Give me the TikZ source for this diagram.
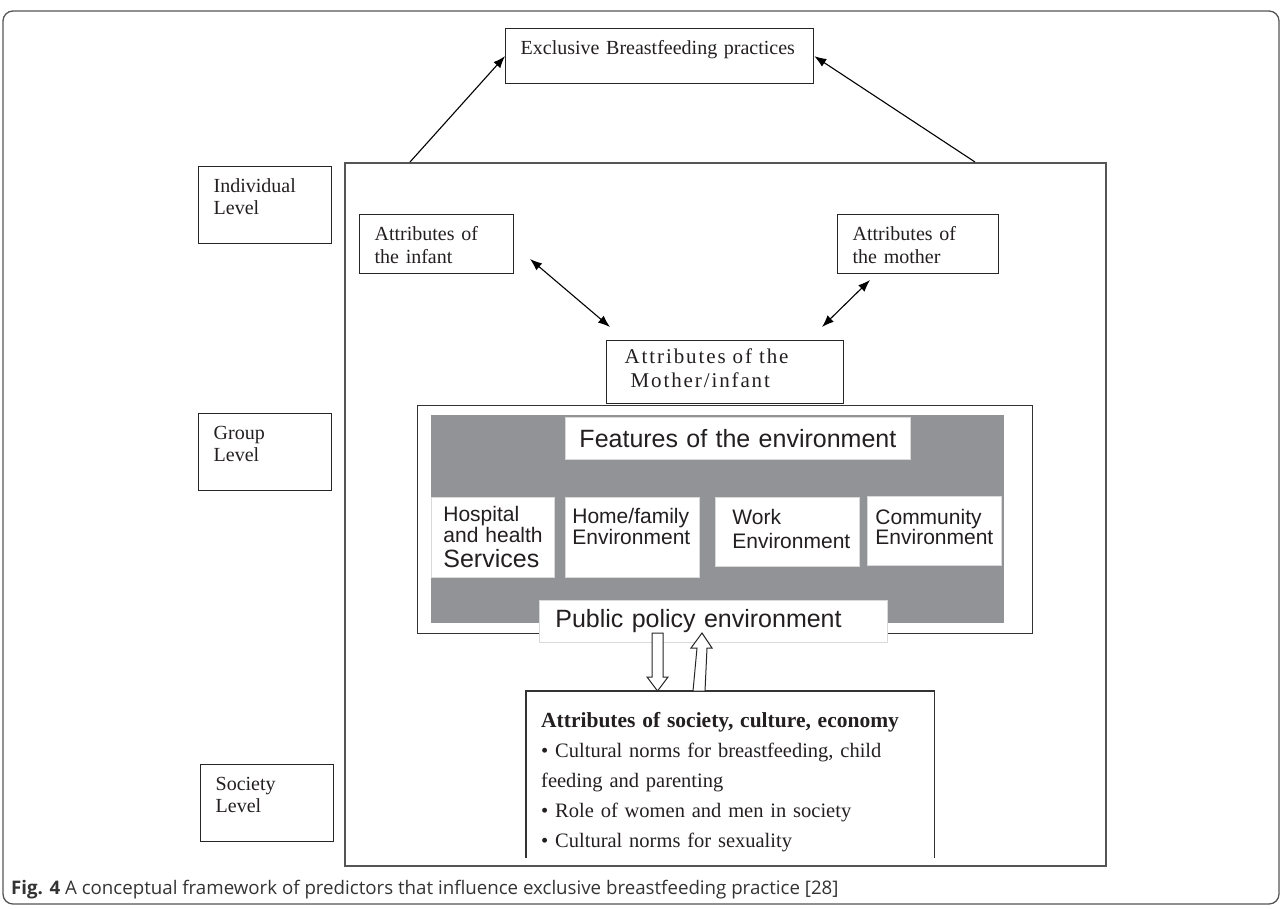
\documentclass[tikz,border=0pt]{standalone}
\usepackage{fontspec}
\usepackage{xcolor}
\setmainfont{Liberation Serif}
\newfontfamily\arialfont{Liberation Sans}
\newfontfamily\capfont{Open Sans}
\newfontfamily\wideserif[LetterSpace=9]{Liberation Serif}
\usetikzlibrary{arrows.meta}
\definecolor{envGray}{RGB}{146,147,151}
\definecolor{lineGray}{RGB}{85,85,85}
\definecolor{txtBlack}{RGB}{35,31,32}

\begin{document}
\begin{tikzpicture}[x=1pt, y=-1pt, >={Latex[length=12pt, width=9pt]},
    box/.style={rectangle, draw=black!85, line width=1.3pt, anchor=north west, align=left, inner ysep=0pt, text=txtBlack},
    levelbox/.style={box, inner xsep=15pt, text width=103pt, text height=26pt, text depth=51pt, font=\fontsize{20}{22}\selectfont},
    attrbox/.style={box, inner xsep=15pt, text height=26pt, text depth=33pt, font=\fontsize{20}{23}\selectfont},
    envbox/.style={rectangle, fill=white, draw=black!15, line width=0.8pt, anchor=north west, align=left, inner ysep=0pt, text=txtBlack, font=\arialfont\fontsize{21}{21}\selectfont},
    hollow/.style={draw=black!85, fill=white, line width=1pt, line join=miter}]
    \useasboundingbox (0,0) rectangle (1281,908);
    % frame and main box
    \draw[lineGray, line width=1.3pt, rounded corners=10pt] (3,11) rectangle (1279,904);
    \node[rectangle, draw=lineGray, line width=1.6pt, anchor=north west, inner sep=0pt, minimum width=761pt, minimum height=703pt] (main) at (344,162) {};

    % levels
    \node[levelbox] (indiv) at (198,166) {Individual\\Level};
    \node[levelbox] (group) at (198,413) {Group\\Level};
    \node[levelbox] (society) at (200,764) {Society\\Level};

    % outcome
    \node[box, inner xsep=15pt, text width=278pt, text height=26pt, text depth=29pt, font=\fontsize{20}{23}\selectfont] (ebf) at (505,28) {Exclusive Breastfeeding practices};
    \coordinate (mainL) at (410,162);
    \coordinate (mainR) at (975,162);
    \draw[->, line width=1.1pt] (mainL) -- (ebf.west);
    \draw[->, line width=1.1pt] (mainR) -- (ebf.east);

    % individual attributes
    \node[attrbox, text width=124pt] (infant) at (359,214) {Attributes of\\the infant};
    \node[attrbox, text width=131pt] (mother) at (837,214) {Attributes of\\the mother};
    \node[box, inner xsep=18pt, text width=201pt, text height=23pt, text depth=40pt, font=\wideserif\fontsize{21}{24}\selectfont] (dyad) at (606,340) {Attributes of the\\\hspace*{6pt}Mother/infant};
    \coordinate (infTip) at (530,259);
    \coordinate (dyadL) at (610,327);
    \coordinate (motTip) at (870,280);
    \coordinate (dyadR) at (822,327);
    \draw[<->, line width=1.1pt] (infTip) -- (dyadL);
    \draw[<->, line width=1.1pt] (motTip) -- (dyadR);

    % environment
    \node[rectangle, draw=black!80, line width=1.3pt, anchor=north west, inner sep=0pt, minimum width=615pt, minimum height=228pt] (env) at (417,405) {};
    \node[rectangle, fill=envGray, anchor=north west, inner sep=0pt, minimum width=573pt, minimum height=208pt] (envfill) at (431,415) {};
    \node[envbox, align=center, inner xsep=0pt, text width=345pt, text height=30pt, text depth=12pt, font=\arialfont\fontsize{25}{25}\selectfont] (features) at (565,417) {Features of the environment};
    \node[envbox, inner xsep=12pt, text width=99pt, text height=24pt, text depth=56pt] (hospital) at (431,497) {Hospital\\and~health\\[4pt]{\fontsize{25}{25}\selectfont Services}};
    \node[envbox, inner xsep=7pt, text width=120pt, text height=26pt, text depth=54pt] (home) at (565,497) {Home/family\\Environment};
    \node[envbox, inner xsep=17pt, text width=110pt, text height=27pt, text depth=42pt, font=\arialfont\fontsize{21}{24}\selectfont] (work) at (715,497) {Work\\Environment};
    \node[envbox, inner xsep=8pt, text width=118pt, text height=28pt, text depth=41pt, font=\arialfont\fontsize{21}{20}\selectfont] (community) at (867,496) {Community\\Environment};
    \node[envbox, inner xsep=16pt, text width=316pt, text height=27pt, text depth=15pt, font=\arialfont\fontsize{25}{25}\selectfont] (policy) at (539,600) {Public policy environment};

    % society, culture, economy
    \node[rectangle, anchor=north west, align=left, inner xsep=15pt, inner ysep=0pt, text width=378pt, text height=36pt, text depth=131pt, text=txtBlack, font=\fontsize{20.5}{30}\selectfont] (culture) at (526,691) {{\fontsize{21.5}{30}\selectfont\bfseries Attributes of society, culture, economy}\\%
        • Cultural norms for breastfeeding, child\\feeding and parenting\\• Role of women and men in society\\• Cultural norms for sexuality};
    \draw[black!80, line width=1.3pt] (culture.south west) -- (culture.north west) -- (culture.north east) -- (culture.south east);
    \draw[hollow] (652,633) -- (663,633) -- (663,677) -- (668,677) -- (657.5,691) -- (647,677) -- (652,677) -- cycle;
    \draw[hollow] (693,691) -- (697,648) -- (691,648) -- (702,633) -- (712,648) -- (707,648) -- (705,691) -- cycle;

    % caption
    \node[anchor=base west, inner sep=0pt, text=black!80, font=\capfont\fontsize{18.7}{20}\selectfont] (caption) at (11,894) {\textbf{Fig. 4} A conceptual framework of predictors that influence exclusive breastfeeding practice [28]};
\end{tikzpicture}
\end{document}
